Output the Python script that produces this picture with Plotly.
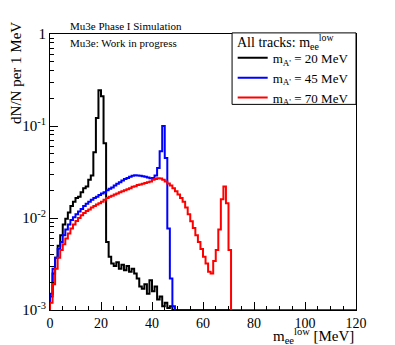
import numpy as np
import plotly.graph_objects as go

# histogram bins: 1 MeV wide, 0..120 MeV
bin_edges = list(range(0, 121))

# m_A' = 20 MeV (bins 0..49, rest empty)
black_vals = [0.0014, 0.0025, 0.0037, 0.005, 0.0065, 0.0085, 0.0098, 0.0115, 0.0135, 0.015,
              0.0165, 0.017, 0.019, 0.021, 0.022, 0.026, 0.029, 0.052, 0.122, 0.245,
              0.21, 0.065, 0.0055, 0.0038, 0.0032, 0.003, 0.0033, 0.0028, 0.0031, 0.0027,
              0.003, 0.0026, 0.0028, 0.0025, 0.0022, 0.0018, 0.0017, 0.0019, 0.0015, 0.0021,
              0.0016, 0.0018, 0.0013, 0.0014, 0.0011, 0.0012, 0.00105, 0.0011, 0.001, 0.001]

# m_A' = 45 MeV (bins 0..48)
blue_vals = [0.0015, 0.0028, 0.0037, 0.0046, 0.0055, 0.0065, 0.0075, 0.0085, 0.0095, 0.0102,
             0.011, 0.0118, 0.0125, 0.0135, 0.0143, 0.015, 0.0158, 0.0165, 0.017, 0.0178,
             0.0185, 0.019, 0.02, 0.0208, 0.0215, 0.0225, 0.0235, 0.0245, 0.0255, 0.0265,
             0.0272, 0.028, 0.0288, 0.0292, 0.029, 0.0288, 0.0285, 0.028, 0.0275, 0.027,
             0.0272, 0.029, 0.035, 0.053, 0.1, 0.045, 0.0077, 0.0022, 0.0011]

# m_A' = 70 MeV (bins 0..70)
red_vals = [0.0012, 0.0019, 0.0028, 0.0037, 0.0045, 0.0052, 0.006, 0.0068, 0.0077, 0.0085,
            0.0093, 0.01, 0.0107, 0.0113, 0.0119, 0.0124, 0.013, 0.0135, 0.014, 0.0145,
            0.015, 0.0158, 0.0165, 0.017, 0.0175, 0.018, 0.0185, 0.019, 0.0195, 0.02,
            0.0205, 0.021, 0.0218, 0.0222, 0.0228, 0.0232, 0.0236, 0.024, 0.0245, 0.025,
            0.026, 0.0265, 0.027, 0.0268, 0.026, 0.025, 0.0237, 0.0225, 0.021, 0.0195,
            0.018, 0.0165, 0.015, 0.013, 0.011, 0.0092, 0.0078, 0.0065, 0.0055, 0.0046,
            0.0038, 0.0032, 0.0026, 0.0025, 0.0034, 0.0045, 0.0075, 0.016, 0.022, 0.0145,
            0.0045]

series = [
    ("m<sub>A'</sub> = 20 MeV", black_vals, "#000000"),
    ("m<sub>A'</sub> = 45 MeV", blue_vals, "#0000ff"),
    ("m<sub>A'</sub> = 70 MeV", red_vals, "#ff0000"),
]

ymin = 1e-3
nbins = len(bin_edges) - 1

fig = go.Figure()
for name, vals, col in series:
    # pad empty bins with 0, draw them at the bottom of the frame like ROOT does
    v = np.zeros(nbins)
    v[:len(vals)] = vals
    v = np.maximum(v, ymin)
    xs = [bin_edges[0]] + bin_edges
    ys = [ymin] + list(v) + [v[-1]]
    fig.add_trace(go.Scatter(x=xs, y=ys, mode="lines", name=name,
                             line=dict(color=col, width=2, shape="hv")))

font = "Liberation Serif, Times New Roman, serif"

# page body has an 8px margin, so the figure is 8px smaller than the window
fig.update_layout(
    width=387, height=337,
    margin=dict(l=42, r=39, t=26, b=35, autoexpand=False),
    paper_bgcolor="white", plot_bgcolor="white",
    font=dict(family=font, size=15, color="black"),
    showlegend=True,
    legend=dict(
        x=0.597, xanchor="left", y=0.968, yanchor="top",
        bgcolor="rgba(0,0,0,0)", borderwidth=0,
        font=dict(size=13, family=font),
        tracegroupgap=0, itemwidth=30,
    ),
    xaxis=dict(
        range=[0, 120], tickvals=[0, 20, 40, 60, 80, 100, 120],
        ticks="inside", ticklen=8, tickcolor="black",
        minor=dict(ticks="inside", ticklen=4, dtick=5, tick0=0, tickcolor="black"),
        showline=True, linecolor="black", linewidth=1, mirror=True,
        showgrid=False, zeroline=False, automargin=False,
        tickfont=dict(size=14, family=font),
    ),
    yaxis=dict(
        type="log", range=[-3, 0],
        tickvals=[1e-3, 1e-2, 1e-1, 1],
        ticktext=["10<sup>-3</sup>", "10<sup>-2</sup>", "10<sup>-1</sup>", "1"],
        ticks="inside", ticklen=8, tickcolor="black",
        minor=dict(ticks="inside", ticklen=4, tickcolor="black",
                   tickvals=[m * 10.0 ** e for e in (-3, -2, -1) for m in range(2, 10)]),
        showline=True, linecolor="black", linewidth=1, mirror=True,
        showgrid=False, zeroline=False, automargin=False,
        tickfont=dict(size=15, family=font),
    ),
)

# legend box + header, like the ROOT TLegend
fig.add_shape(type="rect", xref="paper", yref="paper", x0=0.595, x1=1.0, y0=0.745, y1=1.004,
              line=dict(color="black", width=1), fillcolor="white", layer="above")
fig.add_annotation(text="All tracks: m<sub>ee</sub><sup>low</sup>", xref="paper", yref="paper",
                   x=0.605, y=0.972, xanchor="left", yanchor="middle",
                   showarrow=False, font=dict(size=14, family=font))

fig.add_annotation(text="dN/N per 1 MeV", xref="paper", yref="paper",
                   x=-0.112, y=1.05, xanchor="center", yanchor="top",
                   textangle=-90, showarrow=False, font=dict(size=15, family=font))
fig.add_annotation(text="m<sub>ee</sub><sup>low</sup> [MeV]", xref="paper", yref="paper",
                   x=1.0, y=-0.093, xanchor="right", yanchor="middle",
                   showarrow=False, font=dict(size=15, family=font))
fig.add_annotation(text="Mu3e Phase I Simulation", xref="paper", yref="paper",
                   x=0.06, y=1.0, xanchor="left", yanchor="bottom",
                   showarrow=False, font=dict(size=11, family=font))
fig.add_annotation(text="Mu3e: Work in progress", xref="paper", yref="paper",
                   x=0.06, y=0.995, xanchor="left", yanchor="top",
                   showarrow=False, font=dict(size=11, family=font))

fig.write_html("out.html")
